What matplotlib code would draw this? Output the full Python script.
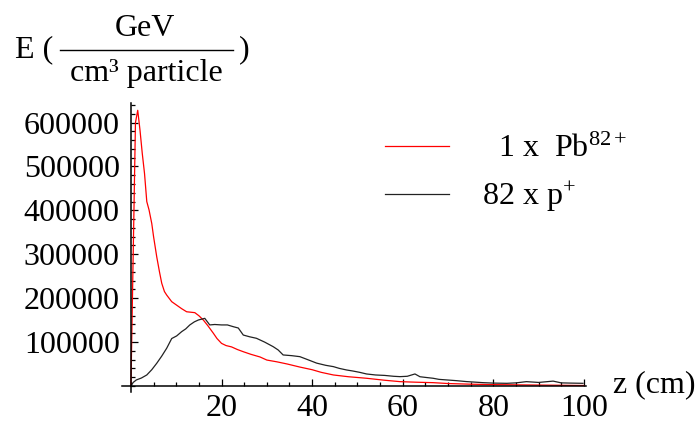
import matplotlib
matplotlib.use("Agg")
import matplotlib.pyplot as plt
from matplotlib.ticker import MultipleLocator

plt.rcParams["font.family"] = ["Liberation Serif", "DejaVu Serif"]
plt.rcParams["mathtext.fontset"] = "custom"
plt.rcParams["mathtext.rm"] = "Liberation Serif"
plt.rcParams["mathtext.it"] = "Liberation Serif:italic"

# depth z (cm) and deposited energy
z_pb = [0, 0.5, 1.0, 1.5, 2.0, 2.5, 3.0, 3.5, 4.0, 4.6, 5.0, 5.7, 6.3, 6.8, 7.4,
        7.9, 9.0, 10.1, 11.2, 12.3, 13.2, 14.1, 15.0, 16.0, 17.0, 18.2, 19.0,
        20.0, 21.0, 22.2, 23.5, 24.8, 26.5, 28.5, 30.0, 32.2, 34.5, 37.3, 40,
        42, 44.7, 48, 52, 56, 59.4, 63, 66.7, 70, 75, 80, 85, 90, 95, 100]
e_pb = [0, 300000, 600000, 628000, 583000, 530000, 484000, 420000, 401000,
        370000, 340000, 294000, 260000, 234000, 215000, 207000, 192000, 184000,
        176000, 169000, 168000, 167000, 160000, 150000, 137000, 120000, 108000,
        97000, 92000, 89000, 83000, 78000, 72000, 66000, 59000, 55000, 50000,
        43000, 37000, 31000, 25000, 21000, 17500, 13000, 9800, 8500, 7500, 5500,
        4000, 3000, 2500, 2000, 1500, 1000]

z_p = [0, 0.5, 1.2, 2.3, 3.5, 4.6, 5.7, 6.8, 7.9, 9.0, 10.1, 11.2, 12.1, 13.0,
       14.0, 14.9, 16.3, 17.4, 18.5, 20.0, 21.3, 22.6, 23.7, 24.8, 26.2, 27.7,
       29.5, 31.4, 32.5, 33.6, 35.5, 37.3, 39, 41, 43, 44.7, 46, 47.6, 49, 50.5,
       52, 54, 56, 58, 59.4, 61, 62.7, 63.8, 65, 66.7, 68, 69.7, 71.9, 74, 77.7,
       80, 83, 85, 87.3, 90, 93.2, 95, 97, 99.8]
e_p = [0, 8000, 13700, 18000, 25000, 37000, 51700, 68000, 86000, 108000, 114000,
       123700, 130000, 139000, 146000, 150300, 154000, 139000, 140000, 139000,
       139000, 135000, 132000, 116000, 112000, 108600, 100000, 89500, 82000,
       70600, 69000, 66700, 60000, 52000, 47000, 44000, 40000, 36400, 34000,
       31000, 27300, 25000, 24000, 22000, 21200, 22000, 27300, 21000, 19500,
       17500, 15000, 13700, 12000, 10000, 7500, 6500, 6000, 7000, 9800, 8000,
       11000, 7000, 6500, 6000]

labels = ["  1 x  Pb$^{82+}$", "82 x p$^{+}$"]
x_ticks = [20, 40, 60, 80, 100]
y_ticks = [100000, 200000, 300000, 400000, 500000, 600000]

FS = 23

fig = plt.figure(figsize=(7, 4.26), dpi=100)
ax = fig.add_axes([0.1741, 0.0796, 0.6633, 0.679])

ax.plot(z_pb, e_pb, color="#ff0000", lw=0.9, label=labels[0])
ax.plot(z_p, e_p, color="#222222", lw=0.9, label=labels[1])

ax.set_xlim(-2, 100.5)
ax.set_ylim(-14000, 645000)
for s in ("top", "right"):
    ax.spines[s].set_visible(False)
ax.spines["left"].set_position(("data", 0))
ax.spines["bottom"].set_position(("data", 0))
for s in ("left", "bottom"):
    ax.spines[s].set_linewidth(1.1)

ax.set_xticks(x_ticks)
ax.set_yticks(y_ticks)
ax.set_yticklabels([str(v) for v in y_ticks])
ax.xaxis.set_minor_locator(MultipleLocator(5))
ax.yaxis.set_minor_locator(MultipleLocator(20000))
ax.tick_params(which="both", direction="in", labelsize=FS, width=0.9)
ax.tick_params(which="major", length=5)
ax.tick_params(which="minor", length=3)
ax.tick_params(axis="y", pad=8)
ax.tick_params(axis="x", pad=6)

leg = ax.legend(loc="upper left", bbox_to_anchor=(0.54, 0.933), frameon=False,
                fontsize=FS, handlelength=2.0, handletextpad=1.03,
                labelspacing=0.5, borderaxespad=0)

# axis titles
fig.text(613 / 700, 1 - 385 / 426, "z (cm)", fontsize=FS, ha="left", va="center")
fig.text(15 / 700, 1 - 50 / 426, "E (", fontsize=FS, ha="left", va="center")
fig.text(145 / 700, 1 - 28 / 426, "GeV", fontsize=FS, ha="center", va="center")
fig.text(146 / 700, 1 - 73 / 426, "cm³ particle", fontsize=FS, ha="center", va="center")
fig.text(239 / 700, 1 - 50 / 426, ")", fontsize=FS, ha="left", va="center")
fig.add_artist(plt.Line2D([60 / 700, 233 / 700], [1 - 50 / 426, 1 - 50 / 426],
                          color="black", lw=1.0))

fig.savefig("out.png", dpi=100)
